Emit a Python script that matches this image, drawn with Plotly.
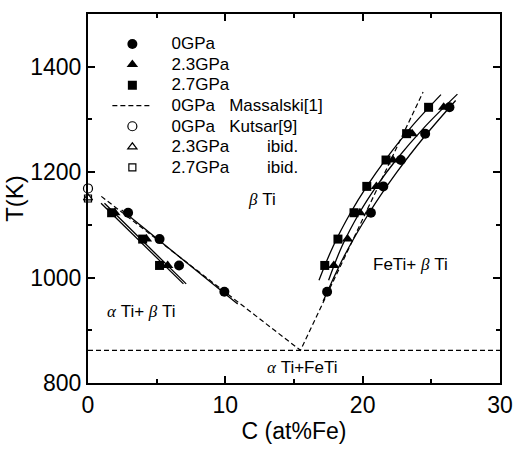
import plotly.graph_objects as go

FONT = "Liberation Sans, Arial, Helvetica, sans-serif"

# ---- measured data (C in at%Fe, T in K) ----
# 0 GPa (filled circles)
c0_left = [2.92, 5.21, 6.63, 9.93]
t0_left = [1123, 1073, 1023, 973]
c0_right = [17.41, 20.6, 21.5, 22.78, 24.55, 26.32]
t0_right = [973, 1123, 1173, 1223, 1273, 1323]
# 2.3 GPa (filled triangles)
c23_left = [1.95, 4.25, 5.8]
t23_left = [1123, 1073, 1023]
c23_right = [17.9, 18.9, 19.8, 21.0, 22.2, 23.6, 25.9]
t23_right = [1023, 1073, 1123, 1173, 1223, 1273, 1323]
# 2.7 GPa (filled squares)
c27_left = [1.72, 3.98, 5.21]
t27_left = [1123, 1073, 1023]
c27_right = [17.24, 18.2, 19.37, 20.3, 21.7, 23.2, 24.8]
t27_right = [1023, 1073, 1123, 1173, 1223, 1273, 1323]

# fitted boundary curves
fit0_left_c = [2.45, 10.9]
fit0_left_t = [1128, 950]
fit0_right_c = [17.12, 18.64, 20.48, 22.49, 24.58, 26.77]
fit0_right_t = [955, 1040, 1123, 1200, 1270, 1336]
fit23_left_c = [1.2, 7.15]
fit23_left_t = [1141, 988]
fit23_right_c = [17.52, 18.5, 19.77, 21.0, 22.43, 24.49, 26.9]
fit23_right_t = [995, 1060, 1123, 1173, 1223, 1285, 1348]
fit27_left_c = [0.95, 6.95]
fit27_left_t = [1141, 988]
fit27_right_c = [16.82, 17.86, 19.12, 20.3, 21.64, 23.52, 25.7]
fit27_right_t = [995, 1060, 1123, 1173, 1223, 1285, 1347]

# Massalski [1] phase boundaries (0 GPa) and eutectoid line
mass_c = [0.97, 15.47, 24.4, None, 0, 30]
mass_t = [1154, 862, 1352, None, 862, 862]

# Kutsar [9] (pure Ti transus)
kut_c = [0.0]
kut_t0 = [1169]
kut_t23 = [1151]
kut_t27 = [1150]

fig = go.Figure()

def fitline(cx, ty):
    fig.add_trace(go.Scatter(x=cx, y=ty, mode="lines", showlegend=False,
                             line=dict(color="black", width=1.3, shape="spline"),
                             hoverinfo="skip"))

for cx, ty in [(fit0_left_c, fit0_left_t), (fit0_right_c, fit0_right_t),
               (fit23_left_c, fit23_left_t), (fit23_right_c, fit23_right_t),
               (fit27_left_c, fit27_left_t), (fit27_right_c, fit27_right_t)]:
    fitline(cx, ty)


def lg(txt):
    return '<span style="font-size:17px">&nbsp;&nbsp;&nbsp;' + txt + '</span>'


fig.add_trace(go.Scatter(x=c0_left + [None] + c0_right, y=t0_left + [None] + t0_right,
                         mode="markers", name=lg("0GPa"),
                         marker=dict(symbol="circle", size=10, color="black")))
fig.add_trace(go.Scatter(x=c23_left + [None] + c23_right, y=t23_left + [None] + t23_right,
                         mode="markers", name=lg("2.3GPa"),
                         marker=dict(symbol="triangle-up", size=10, color="black")))
fig.add_trace(go.Scatter(x=c27_left + [None] + c27_right, y=t27_left + [None] + t27_right,
                         mode="markers", name=lg("2.7GPa"),
                         marker=dict(symbol="square", size=9, color="black")))
fig.add_trace(go.Scatter(x=mass_c, y=mass_t, mode="lines",
                         name=lg("0GPa&nbsp;&nbsp;&nbsp;Massalski[1]"),
                         line=dict(color="black", width=1.2, dash="5px,3px")))
fig.add_trace(go.Scatter(x=kut_c, y=kut_t0, mode="markers", cliponaxis=False,
                         name=lg("0GPa&nbsp;&nbsp;&nbsp;Kutsar[9]"),
                         marker=dict(symbol="circle-open", size=9, color="black",
                                     line=dict(width=1.2))))
fig.add_trace(go.Scatter(x=kut_c, y=kut_t23, mode="markers", cliponaxis=False,
                         name=lg("2.3GPa" + "&nbsp;" * 8 + "ibid."),
                         marker=dict(symbol="triangle-up-open", size=8, color="black",
                                     line=dict(width=1.2))))
fig.add_trace(go.Scatter(x=kut_c, y=kut_t27, mode="markers", cliponaxis=False,
                         name=lg("2.7GPa" + "&nbsp;" * 8 + "ibid."),
                         marker=dict(symbol="square-open", size=7, color="black",
                                     line=dict(width=1.2))))

beta = '<span style="font-family:Liberation Serif"><i>β</i></span>'
alpha = '<span style="font-family:Liberation Serif"><i>α</i></span>'
labels = [
    (12.7, 1148, beta + " Ti"),
    (23.5, 1024, "FeTi+ " + beta + " Ti"),
    (3.86, 936, alpha + " Ti+ " + beta + " Ti"),
    (15.6, 829, alpha + " Ti+FeTi"),
]
for x, y, t in labels:
    fig.add_annotation(x=x, y=y, text=t, showarrow=False,
                       font=dict(family=FONT, size=17, color="black"))

axis_common = dict(showline=True, linecolor="black", linewidth=2, mirror="ticks",
                   ticks="inside", tickcolor="black", tickwidth=1.5, ticklen=7,
                   showgrid=False, zeroline=False,
                   tickfont=dict(family=FONT, size=23, color="black"))

fig.update_xaxes(range=[0, 30], tickvals=[0, 10, 20, 30],
                 minor=dict(tickvals=[5, 15, 25], ticks="inside", ticklen=4,
                            tickcolor="black", tickwidth=1.5),
                 title=dict(text="C (at%Fe)", font=dict(family=FONT, size=23, color="black"),
                            standoff=6),
                 **axis_common)
fig.update_yaxes(range=[800, 1500], tickvals=[800, 1000, 1200, 1400],
                 minor=dict(tickvals=[900, 1100, 1300], ticks="inside", ticklen=4,
                            tickcolor="black", tickwidth=1.5),
                 title=dict(text="T(K)", font=dict(family=FONT, size=24, color="black"),
                            standoff=0),
                 **axis_common)

fig.update_layout(
    width=525, height=452,
    margin=dict(l=88, r=13, t=14, b=54),
    paper_bgcolor="white", plot_bgcolor="white",
    font=dict(family=FONT, color="black"),
    showlegend=True,
    legend=dict(x=0.047, y=0.96, xanchor="left", yanchor="top",
                bgcolor="rgba(0,0,0,0)", borderwidth=0,
                font=dict(family=FONT, size=13.5, color="black"),
                itemwidth=40, tracegroupgap=0),
)

fig.write_html("out.html")
